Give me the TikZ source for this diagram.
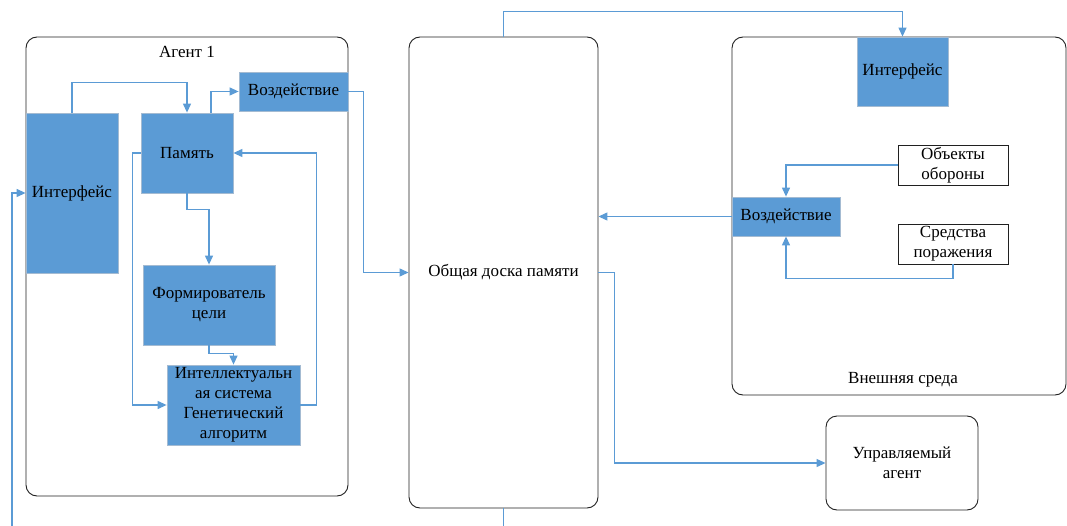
\documentclass[tikz,border=0pt]{standalone}
\usepackage{fontspec}
\setmainfont{Liberation Serif}
\usetikzlibrary{positioning, arrows.meta, calc}
\definecolor{BlueA}{HTML}{5B9BD5}
\definecolor{BlueEdge}{HTML}{A4BBD2}
\definecolor{FrameA}{HTML}{202020}
\newcommand{\dfont}{\fontsize{17}{20}\selectfont}
\tikzset{
  blk/.style={draw=BlueEdge, fill=BlueA, align=center, font=\dfont,
              inner sep=2pt, line width=0.8pt},
  wbox/.style={draw=FrameA, fill=white, align=center, font=\dfont,
               inner sep=2pt, line width=0.9pt},
  frame/.style={draw=FrameA, rounded corners=11pt, line width=0.9pt},
  ttl/.style={font=\dfont},
  arr/.style={-{Triangle[length=9pt,width=8pt]}, draw=BlueA, line width=1.2pt},
  lnk/.style={draw=BlueA, line width=1.2pt},
}
\begin{document}
\begin{tikzpicture}[x=1pt,y=-1pt]
  \useasboundingbox (0,0) rectangle (1067,526);
  % containers
  \node[frame, minimum width=322pt, minimum height=459pt] (agent) at (187,266.5) {};
  \node[ttl] (agentT) at (187,52) {Агент 1};
  \node[frame, minimum width=189pt, minimum height=471pt, font=\dfont] (board) at (503.5,272.5) {Общая доска памяти};
  \node[frame, minimum width=334pt, minimum height=358pt] (env) at (899,216) {};
  \node[ttl] (envT) at (903,380) {Внешняя среда};
  \node[frame, minimum width=152pt, minimum height=94pt, font=\dfont, align=center] (ctrl) at (902,463) {Управляемый\\агент};
  % agent blocks
  \node[blk, minimum width=92pt, minimum height=160pt] (ifL) at (72,193) {Интерфейс};
  \node[blk, minimum width=92pt, minimum height=80pt] (mem) at (187,153) {Память};
  \node[blk, minimum width=109pt, minimum height=39pt] (actL) at (293.5,91.5) {Воздействие};
  \node[blk, minimum width=132pt, minimum height=80pt] (goal) at (209,305) {Формирователь\\цели};
  \node[blk, minimum width=133pt, minimum height=80pt, inner sep=0pt] (intel) at (233.5,405) {Интеллектуальн\\ая система\\Генетический\\алгоритм};
  % environment blocks
  \node[blk, minimum width=91pt, minimum height=69pt] (ifR) at (902.5,71.5) {Интерфейс};
  \node[wbox, minimum width=110pt, minimum height=40pt] (obj) at (953,165) {Объекты\\обороны};
  \node[wbox, minimum width=110pt, minimum height=40pt] (weap) at (953,244) {Средства\\поражения};
  \node[blk, minimum width=108pt, minimum height=39pt] (actR) at (786,216.5) {Воздействие};
  \coordinate (inL) at (12,526);
  \coordinate (outB) at (503.5,526);
  % inside agent
  \draw[arr] (ifL.north) -- ++(0,-30) -| (mem.north);
  \draw[arr] ($(mem.north)+(24,0)$) |- (actL.west);
  \draw[arr] (mem.south) -- ++(0,16) -| (goal.north);
  \draw[arr] (goal.south) -- ++(0,8) -| (intel.north);
  \draw[arr] (mem.west) -- ++(-8,0) |- (intel.west);
  \draw[arr] (intel.east) -- ++(16,0) |- (mem.east);
  \draw[arr] (inL) |- (ifL.west);
  % board links
  \draw[arr] (actL.east) -- ++(15,0) |- (board.west);
  \draw[arr] (board.north) -- ++(0,-25) -| (ifR.north);
  \draw[lnk] (board.south) -- (outB);
  \draw[arr] (board.east) -- ++(16,0) |- (ctrl.west);
  \draw[arr] (actR.west) -- (actR.west -| board.east);
  % inside environment
  \draw[arr] (obj.west) -| (actR.north);
  \draw[arr] (weap.south) -- ++(0,14) -| (actR.south);
\end{tikzpicture}
\end{document}
